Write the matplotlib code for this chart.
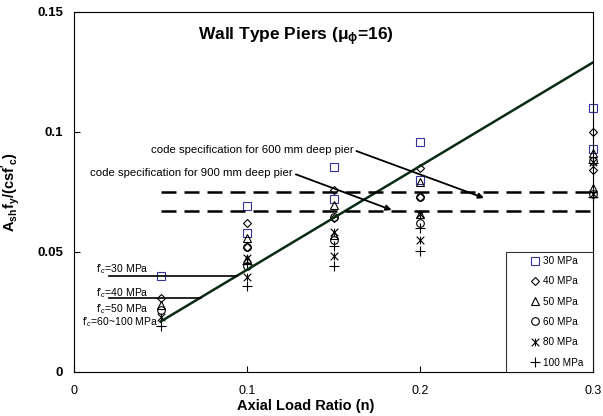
import numpy as np
import matplotlib
matplotlib.use('Agg')
import matplotlib.pyplot as plt
from matplotlib.path import Path

plt.rcParams['font.family'] = ['Liberation Sans', 'DejaVu Sans']
plt.rcParams['mathtext.fontset'] = 'custom'
plt.rcParams['mathtext.rm'] = 'Liberation Sans'
plt.rcParams['mathtext.it'] = 'Liberation Sans:italic'
plt.rcParams['mathtext.bf'] = 'Liberation Sans:bold'

# --- dados ---
labels = ['30 MPa', '40 MPa', '50 MPa', '60 MPa', '80 MPa', '100 MPa']
x_pts = [0.05, 0.1, 0.1, 0.15, 0.15, 0.2, 0.2, 0.3, 0.3]
y_30 = [0.040, 0.069, 0.058, 0.0855, 0.072, 0.096, 0.080, 0.110, 0.093]
y_40 = [0.031, 0.062, 0.052, 0.076, 0.064, 0.085, 0.073, 0.100, 0.084]
y_50 = [0.028, 0.056, 0.047, 0.0696, 0.057, 0.0793, 0.066, 0.0914, 0.0765]
y_60 = [0.026, 0.052, 0.044, 0.0644, 0.055, 0.073, 0.062, 0.088, 0.074]
y_80 = [0.023, 0.0474, 0.0397, 0.0585, 0.0483, 0.0658, 0.055, 0.0875, 0.074]
y_100 = [0.019, 0.045, 0.036, 0.0525, 0.0442, 0.060, 0.0504, 0.087, 0.073]

fit_x = [0.05, 0.3]
fit_y = [0.021, 0.129]

code_600 = 0.0751
code_900 = 0.0672

# marcador "estrela" do Excel (x + barra vertical)
star = Path([(-1, -1), (1, 1), (-1, 1), (1, -1), (0, -1), (0, 1)],
            [Path.MOVETO, Path.LINETO, Path.MOVETO, Path.LINETO, Path.MOVETO, Path.LINETO])

series = [y_30, y_40, y_50, y_60, y_80, y_100]
markers = ['s', 'D', '^', 'o', star, '+']
msizes = [5.5, 4.2, 5.5, 5.5, 5.5, 6.5]
colors = ['#333399', 'k', 'k', 'k', 'k', 'k']

fig = plt.figure(figsize=(6.03, 4.16), dpi=100)
ax = fig.add_axes([74 / 603, 44 / 416, 519 / 603, 360 / 416])

for ys, m, ms, c, lab in zip(series, markers, msizes, colors, labels):
    ax.plot(x_pts, ys, linestyle='none', marker=m, markersize=ms, clip_on=False,
            markerfacecolor='none', markeredgecolor=c, markeredgewidth=0.8, label=lab + '  ')

ax.plot(fit_x, fit_y, color='#0a2a14', linewidth=1.8)

ax.plot([0.05, 0.3], [code_600, code_600], color='k', linewidth=1.8, dashes=(6, 3.2))
ax.plot([0.05, 0.3], [code_900, code_900], color='k', linewidth=1.8, dashes=(6, 3.2))

# linhas horizontais dos rótulos f'c
for yl in [y_30[0], y_40[0]]:
    xe = np.interp(yl, fit_y, fit_x)
    ax.plot([0.02, xe], [yl, yl], color='k', linewidth=1.2)

ax.text(0.0125, 0.0415, "f'$_c$=30 MPa", fontsize=7.5)
ax.text(0.0125, 0.0315, "f'$_c$=40 MPa", fontsize=7.5)
ax.text(0.0125, 0.0250, "f'$_c$=50 MPa", fontsize=7.5)
ax.text(0.0045, 0.0193, "f'$_c$=60~100 MPa", fontsize=7.5)

ax.annotate('code specification for 600 mm deep pier', xy=(0.237, 0.0725),
            xytext=(0.0445, 0.0925), fontsize=8.2, va='center',
            arrowprops=dict(arrowstyle='-|>', color='k', lw=1.3,
                            mutation_scale=8, shrinkA=0, shrinkB=0,
                            relpos=(1, 0.5)))
ax.annotate('code specification for 900 mm deep pier', xy=(0.1836, 0.0675),
            xytext=(0.0095, 0.0828), fontsize=8.2, va='center',
            arrowprops=dict(arrowstyle='-|>', color='k', lw=1.3,
                            mutation_scale=8, shrinkA=0, shrinkB=0,
                            relpos=(1, 0.5)))

ax.text(0.128, 0.1445, r'Wall Type Piers ($\mathbf{\mu_{\phi}}$=16)',
        ha='center', va='top', fontsize=12.5, fontweight='bold')

ax.set_xlim(0, 0.3)
ax.set_ylim(0, 0.15)
ax.set_xticks([0, 0.1, 0.2, 0.3])
ax.set_xticklabels(['0', '0.1', '0.2', '0.3'], fontsize=9)
ax.set_yticks([0, 0.05, 0.1, 0.15])
ax.set_yticklabels(['0', '0.05', '0.1', '0.15'], fontsize=9.5, fontweight='bold')
ax.tick_params(direction='in', length=4, width=0.8)
ax.tick_params(axis='x', pad=9)
ax.tick_params(axis='y', pad=8)
for s in ax.spines.values():
    s.set_linewidth(0.8)

ax.set_xlabel('Axial Load Ratio (n)', fontsize=10.5, fontweight='bold')
ax.xaxis.set_label_coords((306 - 74) / 519, -0.075)
ax.set_ylabel(r"$\mathbf{A_{sh}f_y/(csf'_c)}$", fontsize=10.5)
ax.yaxis.set_label_coords(-0.1, 0.5)

leg = ax.legend(loc='lower right', borderaxespad=0, fontsize=7.2, frameon=True,
                fancybox=False, edgecolor='k', handlelength=5.0, handletextpad=-1.75,
                labelspacing=1.03, borderpad=0.45, numpoints=1)
leg.get_frame().set_linewidth(0.8)

fig.savefig('out.png', dpi=100)
